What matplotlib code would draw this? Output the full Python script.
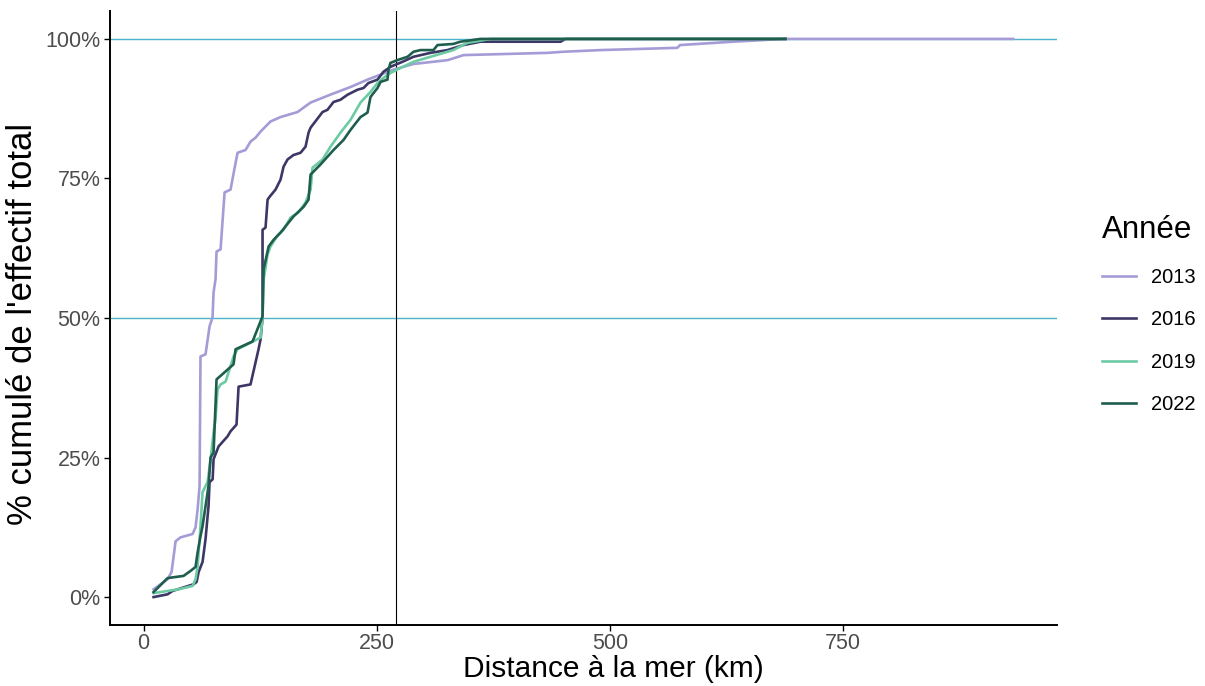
import matplotlib.pyplot as plt
import numpy as np

plt.rcParams['font.family'] = ['Liberation Sans', 'DejaVu Sans']

# cumulative share (%) vs distance to the sea (km)
km_2013 = [10.7, 25.7, 30, 34.3, 39.6, 52.5, 55.7, 57.9, 60, 61, 66.4, 70.7, 73.9, 75, 77.1, 78.2,
           82.5, 86.8, 93.2, 98.6, 100.7, 109.3, 114.6, 120, 125.4, 136, 146.8, 165, 179, 200, 222,
           240, 254, 268, 289, 326, 343, 433, 450, 490, 572, 575, 632, 686, 932]
pct_2013 = [1.4, 3.2, 4.5, 10.0, 10.7, 11.3, 12.5, 15.7, 19.9, 43.1, 43.5, 48.5, 50.1, 54.6, 56.9, 61.9,
            62.3, 72.5, 73, 77.8, 79.6, 80.1, 81.6, 82.3, 83.4, 85.2, 86, 86.9, 88.6, 90, 91.4,
            92.7, 93.6, 94.5, 95.5, 96.2, 97.1, 97.5, 97.7, 98, 98.4, 98.9, 99.5, 100, 100]

km_2016 = [10.7, 25.7, 31, 53.6, 56.8, 59, 63.2, 66.4, 69.6, 70.7, 74, 75, 80.4, 90, 93.2, 99.6,
           101.8, 114.6, 123.2, 125.4, 127.5, 127.5, 130.7, 132.9, 135, 141.4, 146.8, 150, 154.3,
           160.7, 168.2, 173.6, 176.8, 179, 191.8, 197.1, 203.6, 211, 218.6, 229.3, 235.7, 241,
           250.7, 257, 264.6, 277.5, 289.3, 307.5, 325.7, 343, 361, 447, 452, 688]
pct_2016 = [0, 0.5, 1.1, 2.3, 2.7, 4.5, 6.3, 10.4, 16.3, 20.6, 21.1, 24.7, 27, 28.8, 29.7, 30.9,
            37.7, 38.1, 44.4, 46.2, 50.1, 65.8, 66.2, 71.2, 71.7, 73, 74.8, 77.1, 78.4,
            79.2, 79.6, 80.7, 83.2, 84.1, 86.9, 87.3, 88.7, 89.1, 90, 90.9, 91.2, 92.1,
            92.7, 94.1, 95, 95.9, 96.8, 97.5, 98, 98.9, 99.5, 99.5, 100, 100]

km_2019 = [10.7, 25.7, 37.5, 52.5, 55.7, 57.9, 59, 61, 63.2, 68.6, 71.8, 75, 77, 79.3, 82.5, 87.9,
           96.4, 100.7, 122.1, 125.4, 127.5, 128.6, 130.7, 132.9, 136, 143.6, 150, 157.5, 166,
           173.6, 179, 181, 191.8, 200.4, 211, 221.8, 232.5, 243.2, 250.7, 257, 264.6, 275.4,
           289.3, 307.5, 332, 347, 372, 688]
pct_2019 = [0.7, 1.1, 1.4, 2, 3.2, 5.5, 8, 12.7, 18.8, 20.6, 24.7, 29.5, 31.8, 37.2, 38.1, 38.6,
            43.1, 44.4, 46.2, 46.5, 50.1, 56.9, 59, 61.4, 62.8, 64.8, 65.8, 68, 68.9,
            70.7, 73, 76.9, 78.4, 80.7, 83.2, 85.5, 88.6, 90.5, 92.1, 93, 93.9, 94.8,
            95.9, 96.8, 98, 99.3, 100, 100]

km_2022 = [10.7, 25.7, 42.9, 50.4, 55.7, 57.9, 61, 63.2, 69.6, 71.8, 75, 78.2, 96.4, 98.6, 116.8,
           127.5, 128.6, 134, 139.3, 146.8, 160.7, 171.4, 176.8, 179, 189.6, 203.6, 214.3, 221.8,
           232.5, 240, 243.2, 250.7, 254, 261.4, 262.5, 264.6, 272, 282.9, 289.3, 296.8, 310.7,
           315, 332, 339.6, 361, 688]
pct_2022 = [0.9, 3.4, 3.8, 4.7, 5.4, 8, 10.9, 12.7, 19.9, 25, 25.9, 39, 41.7, 44.4, 45.8,
            50.3, 58.7, 62.8, 64, 65.3, 68.2, 69.9, 71.2, 75.7, 77.5, 80.1, 81.9, 83.7,
            86, 86.8, 89.6, 91.2, 92.3, 92.7, 94.5, 95.7, 96.2, 96.8, 97.7, 98, 98,
            98.9, 99.1, 99.5, 100, 100]

years = ['2013', '2016', '2019', '2022']
colors = ['#a49cd6', '#3d3766', '#6ccba3', '#1f5e4e']
series = [(km_2013, pct_2013), (km_2016, pct_2016), (km_2019, pct_2019), (km_2022, pct_2022)]

fig = plt.figure(figsize=(12.05, 6.86), dpi=100)
ax = fig.add_axes([110 / 1205, 1 - 625 / 686, (1057 - 110) / 1205, (625 - 11) / 686])

ax.axhline(50, color='#4db3c9', lw=1.0, zorder=1)
ax.axhline(100, color='#4db3c9', lw=1.0, zorder=1)
ax.axvline(271, color='black', lw=0.8, zorder=1)

for yr, col, (x, y) in zip(years, colors, series):
    ax.plot(x, y, color=col, lw=1.9, label=yr, zorder=2)

ax.set_xlim(-36, 979)
ax.set_ylim(-5, 105)
ax.set_xticks([0, 250, 500, 750])
ax.set_yticks([0, 25, 50, 75, 100])
ax.set_yticklabels(['0%', '25%', '50%', '75%', '100%'])

for s in ['top', 'right']:
    ax.spines[s].set_visible(False)
for s in ['left', 'bottom']:
    ax.spines[s].set_linewidth(1.4)
ax.tick_params(axis='both', labelsize=15.5, colors='#4d4d4d', length=4, width=1, pad=3)
ax.tick_params(axis='x', pad=2)
ax.tick_params(axis='both', color='black')

ax.set_xlabel('Distance à la mer (km)', fontsize=21.5, va='center')
ax.xaxis.set_label_coords(0.532, -0.071, transform=ax.transAxes)
ax.set_ylabel("% cumulé de l'effectif total", fontsize=25, va='center', ha='center')
ax.yaxis.set_label_coords(-0.092, 0.49, transform=ax.transAxes)

leg = ax.legend(title='Année', loc='upper left', bbox_to_anchor=(1092 / 1205, 1 - 205 / 686),
                bbox_transform=fig.transFigure, frameon=False, fontsize=14.5, title_fontsize=22.5,
                handlelength=1.7, handletextpad=0.75, labelspacing=1.15, borderpad=0,
                alignment='left')

fig.savefig('out.png', dpi=100)
